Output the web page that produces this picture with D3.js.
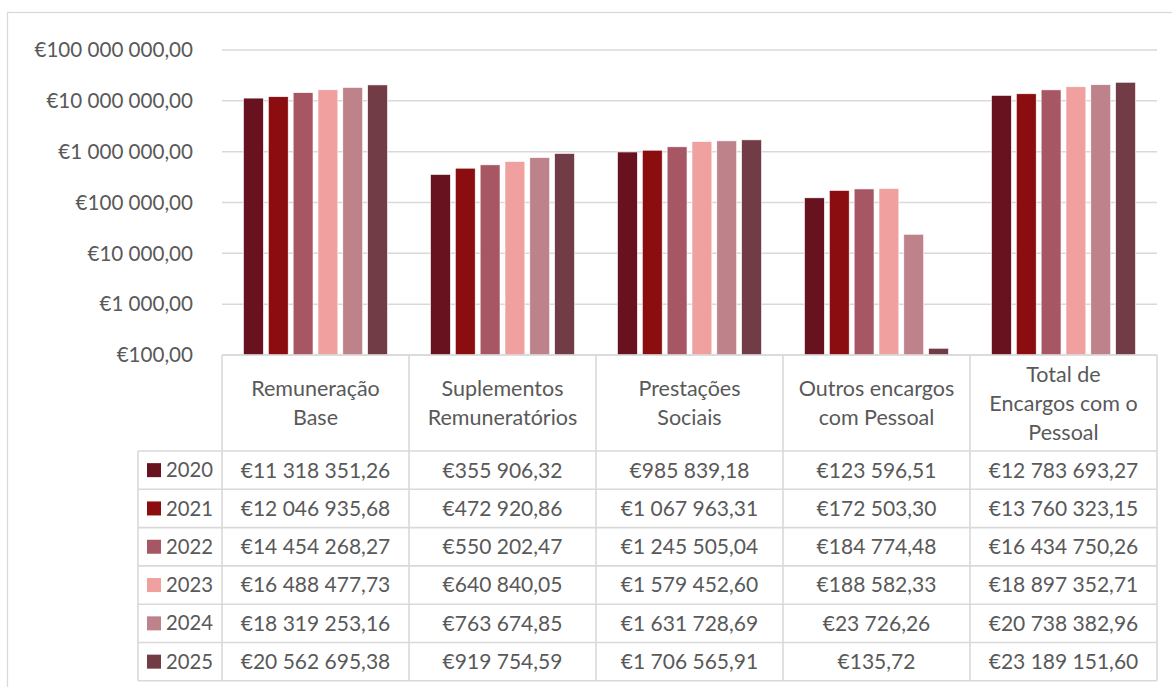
<!DOCTYPE html>
<html>
<head>
<meta charset="utf-8">
<script src="https://cdn.jsdelivr.net/npm/d3@7"></script>
<style>
  body { margin: 0; background: #fff; }
  svg { font-family: Lato, "Liberation Sans", sans-serif; }
</style>
</head>
<body>
<script>
const categories = [
  ['Remuneração', 'Base'],
  ['Suplementos', 'Remuneratórios'],
  ['Prestações', 'Sociais'],
  ['Outros encargos', 'com Pessoal'],
  ['Total de', 'Encargos com o', 'Pessoal']
];
const years = ['2020', '2021', '2022', '2023', '2024', '2025'];
const colors = ['#67121e', '#8b0d0f', '#a65763', '#efa09f', '#be828b', '#713c45'];

// one array per year, values per category
const v2020 = [11318351.26, 355906.32, 985839.18, 123596.51, 12783693.27];
const v2021 = [12046935.68, 472920.86, 1067963.31, 172503.30, 13760323.15];
const v2022 = [14454268.27, 550202.47, 1245505.04, 184774.48, 16434750.26];
const v2023 = [16488477.73, 640840.05, 1579452.60, 188582.33, 18897352.71];
const v2024 = [18319253.16, 763674.85, 1631728.69, 23726.26, 20738382.96];
const v2025 = [20562695.38, 919754.59, 1706565.91, 135.72, 23189151.60];
const series = [v2020, v2021, v2022, v2023, v2024, v2025];

const yTicks = [100, 1000, 10000, 100000, 1000000, 10000000, 100000000];

const W = 1172, H = 687;
const plot = { left: 222, right: 1157, top: 50, bottom: 355 };
const rowH = 38.3;
const headerBottom = 451;
const legendLeft = 138;
const textColor = '#595959';
const lineColor = '#d9d9d9';

const locale = d3.formatLocale({ decimal: ',', thousands: '\u00a0', grouping: [3], currency: ['€', ''] });
const fmt = locale.format('$,.2f');

const svg = d3.select('body').append('svg')
  .attr('width', W)
  .attr('height', H);

// outer chart border
svg.append('rect')
  .attr('x', 7.5).attr('y', 12.5)
  .attr('width', W + 10).attr('height', H + 10)
  .attr('fill', 'none')
  .attr('stroke', lineColor)
  .attr('stroke-width', 1.3);

const y = d3.scaleLog()
  .domain([100, 100000000])
  .range([plot.bottom, plot.top]);

const x0 = d3.scaleBand()
  .domain(d3.range(categories.length))
  .range([plot.left, plot.right]);

const x1 = d3.scaleBand()
  .domain(d3.range(years.length))
  .range([21.5, x0.bandwidth() - 21.5])
  .paddingInner(0.2);

// gridlines + y labels
const grid = svg.append('g');
grid.selectAll('line')
  .data(yTicks)
  .join('line')
  .attr('x1', plot.left).attr('x2', plot.right)
  .attr('y1', d => y(d)).attr('y2', d => y(d))
  .attr('stroke', lineColor)
  .attr('stroke-width', 1.5);

grid.selectAll('text')
  .data(yTicks)
  .join('text')
  .attr('x', 193)
  .attr('y', d => y(d))
  .attr('dy', '0.35em')
  .attr('text-anchor', 'end')
  .attr('fill', textColor)
  .attr('font-size', 20.6)
  .text(d => fmt(d));

// bars
const groups = svg.append('g')
  .selectAll('g')
  .data(series)
  .join('g')
  .attr('fill', (d, i) => colors[i]);

groups.each(function(vals, si) {
  d3.select(this).selectAll('rect')
    .data(vals)
    .join('rect')
    .attr('x', (d, ci) => x0(ci) + x1(si))
    .attr('width', x1.bandwidth())
    .attr('y', d => y(d))
    .attr('height', d => plot.bottom - y(d))
    .attr('stroke', '#fff')
    .attr('stroke-width', 0.6);
});

// data table
const tbl = svg.append('g')
  .attr('stroke', lineColor)
  .attr('stroke-width', 1.6);

const tableBottom = headerBottom + rowH * years.length;

// horizontal lines
tbl.append('line')
  .attr('x1', plot.left).attr('x2', plot.right)
  .attr('y1', plot.bottom).attr('y2', plot.bottom);
tbl.selectAll('line.row')
  .data(d3.range(years.length + 1))
  .join('line')
  .attr('class', 'row')
  .attr('x1', legendLeft).attr('x2', plot.right)
  .attr('y1', i => headerBottom + i * rowH)
  .attr('y2', i => headerBottom + i * rowH);

// vertical lines
tbl.selectAll('line.col')
  .data(d3.range(categories.length + 1))
  .join('line')
  .attr('class', 'col')
  .attr('x1', i => i < categories.length ? x0(i) : plot.right)
  .attr('x2', i => i < categories.length ? x0(i) : plot.right)
  .attr('y1', plot.bottom)
  .attr('y2', tableBottom);
tbl.append('line')
  .attr('x1', legendLeft).attr('x2', legendLeft)
  .attr('y1', headerBottom).attr('y2', tableBottom);

// header labels
const hdr = svg.append('g')
  .attr('fill', textColor)
  .attr('font-size', 21.5)
  .attr('text-anchor', 'middle');

hdr.selectAll('text')
  .data(categories)
  .join('text')
  .attr('x', (d, i) => x0(i) + x0.bandwidth() / 2)
  .each(function(lines) {
    const midY = (plot.bottom + headerBottom) / 2;
    const lh = 29;
    const start = midY - (lines.length - 1) * lh / 2;
    d3.select(this).selectAll('tspan')
      .data(lines)
      .join('tspan')
      .attr('x', d3.select(this).attr('x'))
      .attr('y', (l, k) => start + k * lh)
      .attr('dy', '0.35em')
      .text(l => l);
  });

// legend column
const leg = svg.append('g')
  .selectAll('g')
  .data(years)
  .join('g')
  .attr('transform', (d, i) => `translate(0,${headerBottom + i * rowH + rowH / 2})`);

leg.append('rect')
  .attr('x', 147).attr('y', -7)
  .attr('width', 14).attr('height', 14)
  .attr('fill', (d, i) => colors[i]);

leg.append('text')
  .attr('x', 166)
  .attr('dy', '0.35em')
  .attr('fill', textColor)
  .attr('font-size', 20.3)
  .text(d => d);

// cell values
const cells = svg.append('g')
  .attr('fill', textColor)
  .attr('font-size', 21)
  .attr('text-anchor', 'middle');

series.forEach((vals, si) => {
  cells.append('g')
    .selectAll('text')
    .data(vals)
    .join('text')
    .attr('x', (d, ci) => x0(ci) + x0.bandwidth() / 2)
    .attr('y', headerBottom + si * rowH + rowH / 2)
    .attr('dy', '0.35em')
    .text(d => fmt(d));
});
</script>
</body>
</html>
